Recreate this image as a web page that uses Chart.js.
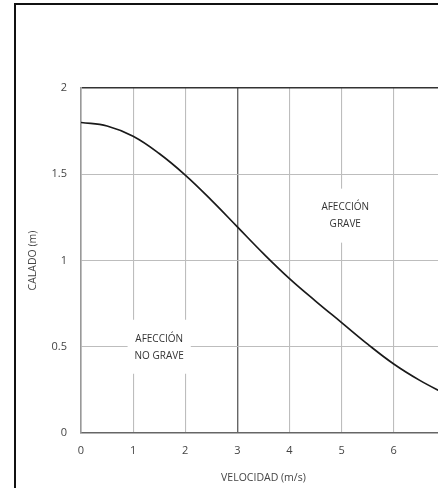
<!DOCTYPE html>
<html lang="es">
<head>
<meta charset="UTF-8">
<title>Calado vs velocidad</title>
<script src="https://cdn.jsdelivr.net/npm/chart.js@4.4.1/dist/chart.umd.min.js"></script>
<style>
  html, body { margin: 0; padding: 0; background: #fff; overflow: hidden; }
  #wrap { width: 438px; height: 488px; overflow: hidden; position: relative; }
</style>
</head>
<body>
<div id="wrap">
  <canvas id="chart" width="460" height="488"></canvas>
</div>
<script>
// velocidad (m/s) -> calado (m)
const velocidad = [0, 0.5, 1, 1.5, 2, 2.5, 3, 3.5, 4, 4.5, 5, 5.5, 6, 6.5, 7];
const calado = [1.80, 1.78, 1.72, 1.62, 1.495, 1.35, 1.195, 1.04, 0.895, 0.765, 0.64, 0.515, 0.40, 0.305, 0.225];

const xTicks = [0, 1, 2, 3, 4, 5, 6, 7];
const yTicks = [0, 0.5, 1, 1.5, 2];

const zonaTextos = [["AFECCIÓN", "GRAVE"], ["AFECCIÓN", "NO GRAVE"]];
const zonaX = [5.07, 1.5];
const zonaY = [1.26, 0.5];

const FONT = '"Open Sans", "DejaVu Sans", sans-serif';

// marco negro (arriba e izquierda) y textos de zona
const extras = {
  id: 'extras',
  afterDatasetsDraw(chart) {
    const ctx = chart.ctx;
    const xs = chart.scales.x, ys = chart.scales.y;
    ctx.save();
    ctx.font = '10px ' + FONT;
    ctx.textAlign = 'center';
    ctx.textBaseline = 'middle';
    zonaTextos.forEach((lines, i) => {
      const cx = xs.getPixelForValue(zonaX[i]);
      const cy = ys.getPixelForValue(zonaY[i]);
      const w = Math.max(...lines.map(l => ctx.measureText(l).width)) + 14;
      const h = 54;
      ctx.fillStyle = '#fff';
      ctx.fillRect(cx - w / 2, cy - h / 2, w, h);
      ctx.fillStyle = '#333';
      ctx.fillText(lines[0], cx, cy - 8);
      ctx.fillText(lines[1], cx, cy + 9);
    });
    ctx.restore();
  },
  afterDraw(chart) {
    const ctx = chart.ctx;
    ctx.save();
    ctx.strokeStyle = '#111';
    ctx.lineWidth = 2;
    ctx.beginPath();
    ctx.moveTo(15, 488);
    ctx.lineTo(15, 4);
    ctx.lineTo(460, 4);
    ctx.stroke();
    ctx.restore();
  }
};

new Chart(document.getElementById('chart'), {
  type: 'line',
  data: {
    datasets: [{
      data: velocidad.map((v, i) => ({ x: v, y: calado[i] })),
      borderColor: '#1a1a1a',
      borderWidth: 1.7,
      pointRadius: 0,
      tension: 0.4,
      fill: false
    }]
  },
  options: {
    responsive: false,
    animation: false,
    layout: { padding: { top: 88, left: 0, right: 0, bottom: 0 } },
    plugins: { legend: { display: false }, tooltip: { enabled: false } },
    scales: {
      x: {
        type: 'linear',
        min: 0, max: 7,
        afterBuildTicks: s => { s.ticks = xTicks.map(v => ({ value: v })); },
        afterFit: s => { s.height = 55; },
        grid: {
          drawTicks: false,
          color: c => c.tick && c.tick.value === 3 ? '#666' : '#bdbdbd',
          lineWidth: c => c.tick && c.tick.value === 3 ? 1.4 : 1.1
        },
        border: { color: '#666', width: 1.5 },
        ticks: { padding: 11, color: '#444', font: { family: FONT, size: 11 }, callback: v => String(v) },
        title: {
          display: true, text: 'VELOCIDAD (m/s)', color: '#444',
          font: { family: FONT, size: 10.5 }, padding: { top: 0, bottom: 4 }
        }
      },
      y: {
        min: 0, max: 2,
        afterBuildTicks: s => { s.ticks = yTicks.map(v => ({ value: v })); },
        afterFit: s => { s.width = 81; },
        grid: {
          drawTicks: false,
          color: c => c.tick && c.tick.value === 2 ? '#333' : '#bdbdbd',
          lineWidth: c => c.tick && c.tick.value === 2 ? 1.6 : 1.1
        },
        border: { color: '#999', width: 1.6 },
        ticks: { padding: 14, color: '#444', font: { family: FONT, size: 11 }, callback: v => String(v) },
        title: {
          display: true, text: 'CALADO (m)', color: '#444',
          font: { family: FONT, size: 10.5 }, padding: { top: 27, bottom: 0 }
        }
      }
    }
  },
  plugins: [extras]
});
</script>
</body>
</html>
